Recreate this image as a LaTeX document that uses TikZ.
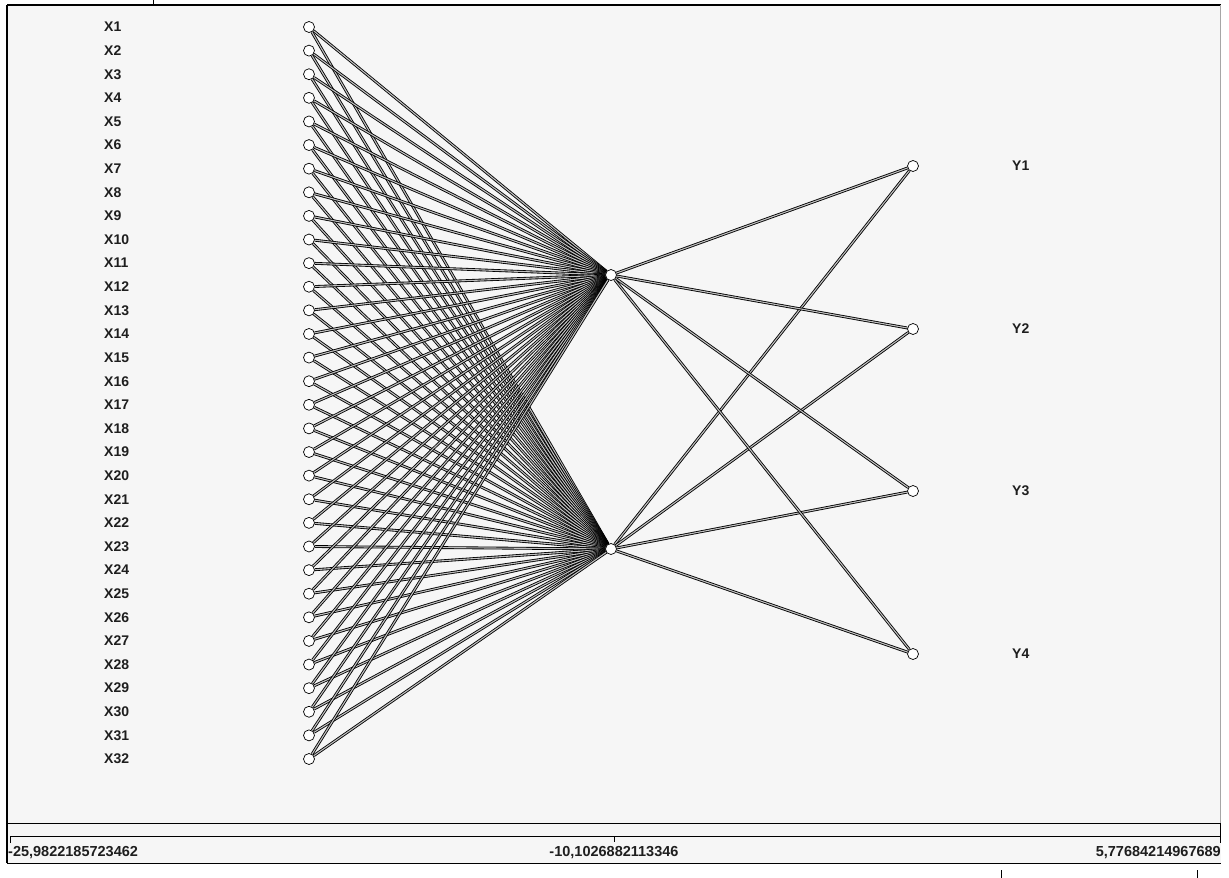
\documentclass[tikz,border=0pt]{standalone}
\usepackage{fontspec}
\setmainfont{Liberation Sans}
\usetikzlibrary{backgrounds}
\definecolor{bg}{HTML}{F6F6F6}
\definecolor{txt}{HTML}{1E1E1E}
\begin{document}
\begin{tikzpicture}[x=1pt,y=-1pt,
  conn/.style={draw=black,line width=0.85pt,double=gray!50,double distance=1.1pt},
  neuron/.style={circle,draw=black,fill=white,line width=0.7pt,minimum size=11pt,inner sep=0pt},
  lbl/.style={font=\bfseries\fontsize{14}{14}\selectfont,text=txt,anchor=west,inner sep=0pt},
  num/.style={font=\bfseries\fontsize{14.5}{14.5}\selectfont,text=txt,inner sep=0pt},
  frameline/.style={draw=black,line width=1.2pt}]
\useasboundingbox (0,0) rectangle (1229,878);
% input layer
\foreach \i in {1,...,32} {
  \pgfmathsetmacro\yy{27+(\i-1)*23.613}
  \node[neuron] (x\i) at (309,\yy) {};
  \node[lbl] (lx\i) at (104,\yy) {X\i};
}
% hidden layer
\node[neuron] (h1) at (611,275) {};
\node[neuron] (h2) at (611,549) {};
% output layer
\node[neuron] (o1) at (913,166) {};
\node[neuron] (o2) at (913,329) {};
\node[neuron] (o3) at (913,491) {};
\node[neuron] (o4) at (913,654) {};
\node[lbl] (ly1) at (1012,166) {Y1};
\node[lbl] (ly2) at (1012,329) {Y2};
\node[lbl] (ly3) at (1012,491) {Y3};
\node[lbl] (ly4) at (1012,654) {Y4};
% axis numbers
\node[num,anchor=west] (n1) at (8,853) {-25,9822185723462};
\node[num] (n2) at (614,853) {-10,1026882113346};
\node[num,anchor=east] (n3) at (1221,853) {5,77684214967689};
\begin{scope}[on background layer]
  \fill[white] (0,0) rectangle (1229,878);
  \fill[bg] (8,5) rectangle (1221,863);
  \foreach \i in {1,...,32} {
    \draw[conn] (x\i) -- (h1);
    \draw[conn] (x\i) -- (h2);
  }
  \foreach \j in {1,...,4} {
    \draw[conn] (h1) -- (o\j);
    \draw[conn] (h2) -- (o\j);
  }
  % frame
  \draw[frameline] (7,5) -- (1221,5);
  \draw[frameline] (7,5) -- (7,863);
  \draw[draw=gray!70,line width=0.6pt] (1220.5,5) -- (1220.5,823);
  \draw[frameline,line width=1pt] (7,823) -- (1221,823);
  \draw[frameline,line width=1pt] (10,843) -- (10,836) -- (1220,836) -- (1220,843);
  \draw[draw=black,line width=1pt] (1220,823) -- (1220,836);
  \draw[draw=black,line width=1pt] (614,836) -- (614,842);
  \draw[frameline,line width=1pt] (7,863) -- (1221,863);
  \draw[draw=black,line width=0.8pt] (153,0) -- (153,4);
  \draw[draw=black,line width=0.8pt] (1001,870) -- (1001,878);
  \draw[draw=black,line width=0.8pt] (1197,870) -- (1197,878);
\end{scope}
\end{tikzpicture}
\end{document}
